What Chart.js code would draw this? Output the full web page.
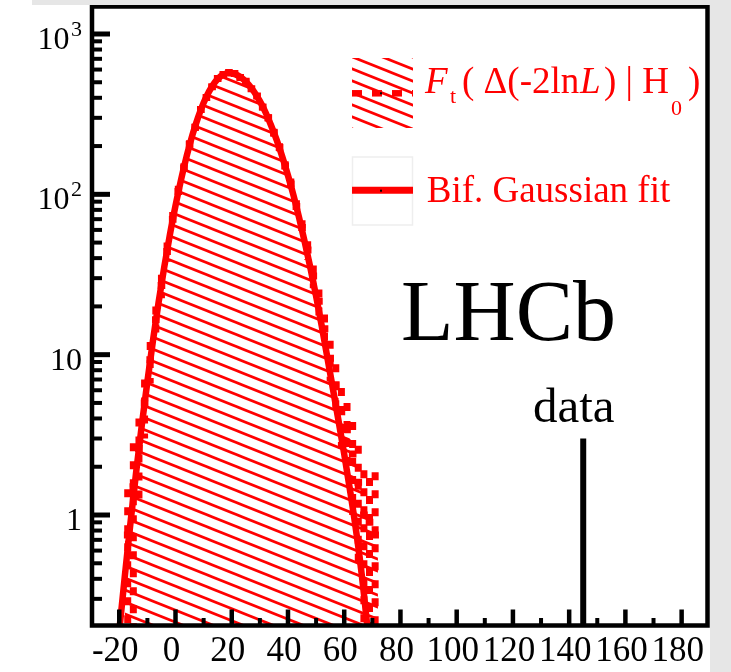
<!DOCTYPE html>
<html>
<head>
<meta charset="utf-8">
<script src="https://cdn.jsdelivr.net/npm/chart.js@4.4.1/dist/chart.umd.min.js"></script>
<style>
  html, body { margin: 0; padding: 0; background: #fff; }
  #wrap { width: 731px; height: 672px; }
</style>
</head>
<body>
<div id="wrap"><canvas id="c" width="731" height="672"></canvas></div>
<script>
// toy MC histogram, bins of width 2
const binWidth = 2;
const binCenters = [-17,-15,-13,-11,-9,-7,-5,-3,-1,1,3,5,7,9,11,13,15,17,19,21,23,25,27,29,31,33,35,37,39,41,43,45,47,49,51,53,55,57,59,61,63,65,67,69,71];
const binValues  = [0.75,1.5,2.6,5.0,9.3,16.5,27,44,70,104,146,205,262,338,402,468,528,558,576,566,536,508,455,410,350,300,242,196,150,116,84,62,45,31,21.5,14.5,9.5,6.5,4.4,3.4,2.4,1.6,1.0,0.9,0.75];
const binErrors  = [0.7,1.3,1.4,2.0,2.7,3.5,4.5,6,7.5,9,10.5,12.5,14,16,17.5,19,20,21,21,21,20,20,19,18,16.5,15.5,14,12.5,11,9.5,8,7,6,5,4,3.3,2.7,2.2,1.8,1.6,1.4,1.1,0.9,0.8,1.1];

// bifurcated gaussian fit
const fitX = [-22,-20,-18,-16,-14,-12,-10,-8,-6,-4,-2,0,2,4,6,8,10,12,14,16,18,19,20,22,24,26,28,30,32,34,36,38,40,42,44,46,48,50,52,54,56,58,60,62,64,66,68,70];
const fitY = [0.082,0.19,0.42,0.90,1.85,3.62,6.8,12.3,21.3,35.2,56,85,124,174,234,301,372,440,500,544,567,570,568,553,524,484,435,381,325,269,218,171,131,98,71,50,34.6,23.2,15.1,9.6,6.1,3.85,2.4,1.45,0.85,0.46,0.22,0.09];

// observed value
const dataX = [145];
const dataY = [3];

// axis ticks
const xMajor = [-20,0,20,40,60,80,100,120,140,160,180];
const xMinor = [-10,10,30,50,70,90,110,130,150,170];
const yMajor = [1,10,100,1000];
const yMajorLabels = ['1','10','10','10'];
const yMajorExp = ['','','2','3'];
const yMinor = [0.3,0.4,0.5,0.6,0.7,0.8,0.9,2,3,4,5,6,7,8,9,20,30,40,50,60,70,80,90,200,300,400,500,600,700,800,900];

const red = '#ff0000';
const serif = '"Liberation Serif", "Times New Roman", serif';

function makeHatch() {
  const t = document.createElement('canvas');
  t.width = 30; t.height = 12;
  const g = t.getContext('2d');
  g.strokeStyle = red;
  g.lineWidth = 2.7;
  for (let k = -1; k <= 1; k++) {
    g.beginPath();
    g.moveTo(-3, k * 12 - 1.2);
    g.lineTo(33, k * 12 + 13.2);
    g.stroke();
  }
  return g.createPattern(t, 'repeat');
}
const hatch = makeHatch();

const histPts = [];
binCenters.forEach((c, i) => {
  histPts.push({x: c - binWidth / 2, y: binValues[i]}, {x: c + binWidth / 2, y: binValues[i]});
});

function line(ctx, x1, y1, x2, y2) {
  ctx.beginPath(); ctx.moveTo(x1, y1); ctx.lineTo(x2, y2); ctx.stroke();
}

// dashed error bars of the histogram, under the fit curve
const errorBars = {
  id: 'errorBars',
  afterDatasetDraw(chart, args) {
    if (args.index !== 2) return;
    const {ctx, chartArea: a, scales: {x, y}} = chart;
    ctx.save();
    ctx.beginPath(); ctx.rect(a.left, a.top, a.right - a.left, a.bottom - a.top); ctx.clip();
    ctx.strokeStyle = red;
    ctx.lineWidth = 7;
    ctx.setLineDash([8, 10]);
    binCenters.forEach((c, i) => {
      const v = binValues[i], e = binErrors[i];
      const px = x.getPixelForValue(c);
      const py = y.getPixelForValue(v);
      const lo = v - e > y.min ? y.getPixelForValue(v - e) : a.bottom;
      const hi = y.getPixelForValue(v + e);
      line(ctx, px, hi, px, lo);
      line(ctx, x.getPixelForValue(c - binWidth / 2) - 1, py, x.getPixelForValue(c + binWidth / 2) + 1, py);
    });
    ctx.restore();
  }
};

const frame = {
  id: 'frame',
  afterDraw(chart) {
    const {ctx, chartArea: a, scales: {x, y}} = chart;
    ctx.save();
    ctx.strokeStyle = '#000';
    ctx.lineWidth = 4.5;
    xMajor.forEach(v => { const p = x.getPixelForValue(v); line(ctx, p, a.bottom, p, a.bottom - 16); });
    ctx.lineWidth = 4;
    xMinor.forEach(v => { const p = x.getPixelForValue(v); line(ctx, p, a.bottom, p, a.bottom - 7.5); });
    ctx.lineWidth = 5;
    yMajor.forEach(v => { const p = y.getPixelForValue(v); line(ctx, a.left, p, a.left + 18, p); });
    ctx.lineWidth = 4;
    yMinor.forEach(v => { const p = y.getPixelForValue(v); line(ctx, a.left, p, a.left + 10, p); });
    ctx.lineWidth = 4.5;
    ctx.strokeRect(a.left, a.top, a.right - a.left, a.bottom - a.top);

    // tick labels
    ctx.fillStyle = '#000';
    ctx.textBaseline = 'alphabetic';
    ctx.font = '35px ' + serif;
    ctx.textAlign = 'center';
    xMajor.forEach(v => ctx.fillText(String(v), x.getPixelForValue(v) - 4, 661));
    yMajor.forEach((v, i) => {
      const p = y.getPixelForValue(v) + 15;
      let right = 82;
      if (yMajorExp[i]) {
        ctx.font = '22px ' + serif;
        ctx.textAlign = 'right';
        ctx.fillText(yMajorExp[i], right, p - 13);
        right -= ctx.measureText(yMajorExp[i]).width + 1.5;
      }
      ctx.font = '32px ' + serif;
      ctx.textAlign = 'right';
      ctx.fillText(yMajorLabels[i], right, p);
    });

    // labels in the pad
    ctx.textAlign = 'left';
    ctx.font = '86px ' + serif;
    ctx.fillText('LHCb', 401, 340);
    ctx.font = '49px ' + serif;
    ctx.fillText('data', 533, 421.7);

    // legend, entry 1
    ctx.fillStyle = hatch;
    ctx.fillRect(352, 58, 61, 70);
    ctx.strokeStyle = red;
    ctx.lineWidth = 6.5;
    ctx.setLineDash([10, 10]);
    line(ctx, 352, 93.3, 413, 93.3);
    ctx.setLineDash([]);
    ctx.fillStyle = '#000';
    ctx.fillRect(380, 92.3, 2, 2);
    ctx.fillStyle = red;
    ctx.font = 'italic 37px ' + serif;
    ctx.fillText('F', 425, 93.3);
    ctx.font = '22px ' + serif;
    ctx.fillText('t', 450, 103);
    ctx.font = '37px ' + serif;
    ctx.fillText('( \u0394(-2ln', 462, 93.3);
    ctx.font = 'italic 37px ' + serif;
    ctx.fillText('L', 580, 93.3);
    ctx.font = '37px ' + serif;
    ctx.fillText(') | H', 604, 93.3);
    ctx.font = '22px ' + serif;
    ctx.fillText('0', 671, 115);
    ctx.font = '37px ' + serif;
    ctx.fillText(')', 688, 93.3);

    // legend, entry 2
    ctx.strokeStyle = '#eeeeee';
    ctx.lineWidth = 1.5;
    ctx.strokeRect(352.5, 157, 60, 68);
    ctx.strokeStyle = red;
    ctx.lineWidth = 7;
    line(ctx, 352, 190.3, 413, 190.3);
    ctx.fillStyle = '#000';
    ctx.fillRect(380, 189.7, 2, 2);
    ctx.fillStyle = red;
    ctx.font = '37px ' + serif;
    ctx.fillText('Bif. Gaussian fit', 426.7, 201.7);

    // grey surround of the original figure
    ctx.fillStyle = '#e6e6e6';
    ctx.fillRect(32, 0, 699, 5);
    ctx.fillRect(710, 0, 21, 672);
    ctx.restore();
  }
};

new Chart(document.getElementById('c'), {
  type: 'line',
  data: {
    datasets: [
      {
        label: 'Bif. Gaussian fit',
        data: fitX.map((v, i) => ({x: v, y: fitY[i]})),
        borderColor: red,
        borderWidth: 6.5,
        pointRadius: 0,
        cubicInterpolationMode: 'monotone',
        fill: false
      },
      {
        label: 'data',
        data: [{x: dataX[0], y: 0.1}, {x: dataX[0], y: dataY[0]}],
        borderColor: '#000',
        borderWidth: 6,
        pointRadius: 0,
        fill: false
      },
      {
        label: 'toy',
        data: histPts,
        borderWidth: 0,
        borderColor: 'rgba(0,0,0,0)',
        backgroundColor: hatch,
        pointRadius: 0,
        tension: 0,
        fill: 'start'
      }
    ]
  },
  options: {
    responsive: false,
    animation: false,
    devicePixelRatio: 1,
    layout: { padding: { left: 92, right: 23.5, top: 6.5, bottom: 46.5 } },
    scales: {
      x: { type: 'linear', min: -29.7, max: 189.2, display: false },
      y: { type: 'logarithmic', min: 0.2046, max: 1484, display: false }
    },
    plugins: { legend: { display: false }, tooltip: { enabled: false } }
  },
  plugins: [errorBars, frame]
});
</script>
</body>
</html>
